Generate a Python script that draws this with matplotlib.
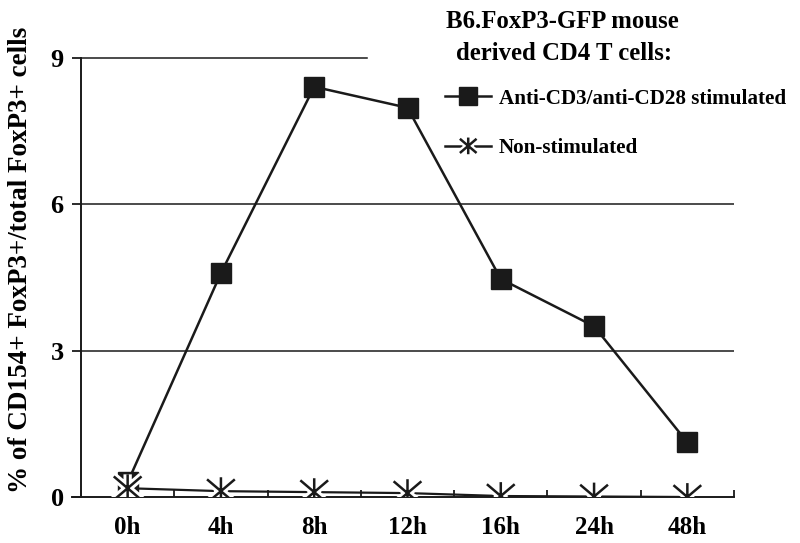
import matplotlib
matplotlib.use("Agg")
import matplotlib.pyplot as plt
from matplotlib.path import Path
from matplotlib.lines import Line2D
import matplotlib.patheffects as pe
import numpy as np

categories = ["0h", "4h", "8h", "12h", "16h", "24h", "48h"]
stimulated = [0.30, 4.59, 8.41, 7.98, 4.47, 3.50, 1.12]
non_stimulated = [0.18, 0.12, 0.10, 0.08, 0.02, 0.01, 0.0]
y_ticks = [0, 3, 6, 9]
ylabel = "% of CD154+ FoxP3+/total FoxP3+ cells"
title_lines = ["B6.FoxP3-GFP mouse", "derived CD4 T cells:"]
label_stim = "Anti-CD3/anti-CD28 stimulated"
label_non = "Non-stimulated"

plt.rcParams['font.family'] = ['Liberation Serif', 'DejaVu Serif']
plt.rcParams['font.weight'] = 'bold'

# asterisk marker: vertical bar plus an X
verts = [(0, -1), (0, 1), (-1, -0.85), (1, 0.85), (-1, 0.85), (1, -0.85)]
codes = [Path.MOVETO, Path.LINETO] * 3
star = Path(verts, codes)

fig = plt.figure(figsize=(8, 5.43), dpi=100)
ax = fig.add_axes([81/800, 1 - 497/543, (734-81)/800, (497-58)/543])

x = np.arange(len(categories))
ink = '#1a1a1a'

# grid lines
for yv in [3, 6]:
    ax.axhline(yv, color=ink, lw=1.1, zorder=1)
ax.axhline(9, xmin=0, xmax=(367-81)/(734-81), color=ink, lw=1.1, zorder=1, clip_on=False)

ax.plot(x, stimulated, color=ink, lw=1.8, marker='s', ms=15, mfc=ink, mec=ink, zorder=3)
ax.plot(x, non_stimulated, color=ink, lw=1.6, zorder=4)
ax.plot(x, non_stimulated, ls='none', marker=star, ms=20, mec=ink, mew=1.8, zorder=5,
        path_effects=[pe.Stroke(linewidth=6, foreground='white'), pe.Normal()])

ax.set_xlim(-0.5, 6.5)
ax.set_ylim(0, 9)
ax.set_yticks(y_ticks)
ax.set_yticklabels([str(v) for v in y_ticks], fontsize=19, fontweight='bold')
ax.set_xticks(x)
ax.set_xticklabels(categories, fontsize=18, fontweight='bold')
ax.set_xticks(np.arange(-0.5, 7.0, 1.0), minor=True)
ax.tick_params(axis='x', which='major', length=0, pad=14)
ax.tick_params(axis='x', which='minor', direction='in', length=5, width=1.3, color=ink)
ax.tick_params(axis='y', direction='out', length=6.5, width=1.3, color=ink, pad=6)

for s in ['top', 'right']:
    ax.spines[s].set_visible(False)
for s in ['left', 'bottom']:
    ax.spines[s].set_linewidth(1.4)
    ax.spines[s].set_color(ink)
ax.spines['bottom'].set_bounds(-0.5 - 9/93.3, 6.5)

ax.set_ylabel(ylabel, fontsize=19.5, fontweight='bold')
ax.yaxis.set_label_coords(-0.0735, 0.54)

fig.text(562/800, 1 - 21/543, title_lines[0], ha='center', va='center',
         fontsize=17.8, fontweight='bold')
fig.text(564/800, 1 - 53/543, title_lines[1], ha='center', va='center',
         fontsize=17.8, fontweight='bold')

h1 = Line2D([], [], color=ink, lw=1.8, marker='s', ms=13, mfc=ink, mec=ink)
h2 = Line2D([], [], color=ink, lw=1.8, marker=star, ms=12, mec=ink, mew=1.8,
            path_effects=[pe.Stroke(linewidth=5, foreground='white'), pe.Normal()])
leg = fig.legend([h1, h2], [label_stim, label_non], loc='center left',
                 bbox_to_anchor=(445/800, 1 - 123.5/543), frameon=False,
                 prop={'size': 15.2, 'weight': 'bold'},
                 handlelength=2.2, handletextpad=0.35, labelspacing=1.4,
                 borderpad=0, borderaxespad=0)

fig.savefig("out.png", dpi=100)
